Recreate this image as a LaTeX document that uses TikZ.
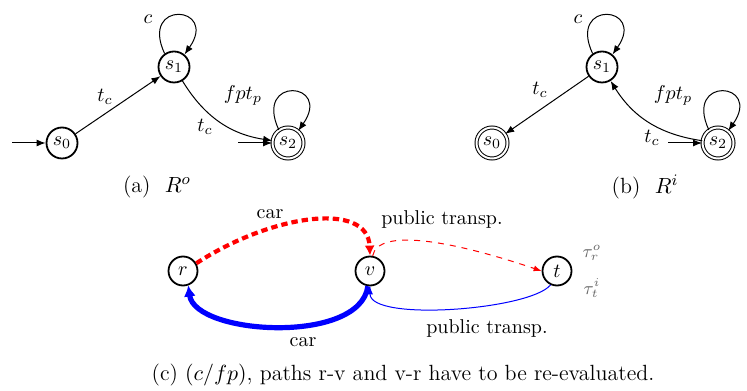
\documentclass[tikz,border=0pt]{standalone}
\usetikzlibrary{arrows.meta}
\begin{document}
\begin{tikzpicture}[x=0.5pt,y=0.5pt,
  statebox/.style={circle,draw,line width=0.9pt,minimum size=15.5pt,inner sep=0pt},
  accbox/.style={circle,draw,double,double distance=1pt,line width=0.5pt,minimum size=15.5pt,inner sep=0pt},
  edgeln/.style={-{Latex[length=4.5pt,width=3.5pt]},line width=0.5pt},
  lbl/.style={inner sep=1pt},
  capt/.style={inner sep=1pt,font=\fontsize{11}{13}\selectfont},
  tau/.style={text=black!60,font=\small,inner sep=0pt}]
\useasboundingbox (0,0) rectangle (747,390);
% (a)
\node[statebox] (a0) at (62,247) {$s_0$};
\node[statebox] (a1) at (174,323) {$s_1$};
\node[accbox] (a2) at (288,247) {$s_2$};
\coordinate (ai0) at (12,247);
\coordinate (ai2) at (238,247);
\draw[edgeln] (ai0) -- (a0);
\draw[edgeln] (ai2) -- (a2);
\draw[edgeln] (a0) -- (a1);
\draw[edgeln] (a1) to[bend right=25] (a2);
\draw[edgeln] (a1.125) .. controls +(115:60) and +(55:60) .. (a1.50);
\draw[edgeln] (a2.125) .. controls +(115:60) and +(55:60) .. (a2.50);
\node[lbl] (la1) at (148,371) {$c$};
\node[lbl] (la2) at (105,293) {$t_c$};
\node[lbl] (la3) at (205,263) {$t_c$};
\node[lbl] (la4) at (243,295) {$fpt_p$};
\node[capt] (capa) at (157,203) {(a)\ \ $R^o$};
% (b)
\node[accbox] (b0) at (492,247) {$s_0$};
\node[statebox] (b1) at (602,323) {$s_1$};
\node[accbox] (b2) at (718,247) {$s_2$};
\coordinate (bi2) at (668,247);
\draw[edgeln] (bi2) -- (b2);
\draw[edgeln] (b1) -- (b0);
\draw[edgeln] (b2) to[bend left=25] (b1);
\draw[edgeln] (b1.125) .. controls +(115:60) and +(55:60) .. (b1.50);
\draw[edgeln] (b2.125) .. controls +(115:60) and +(55:60) .. (b2.50);
\node[lbl] (lb1) at (578,371) {$c$};
\node[lbl] (lb2) at (540,300) {$t_c$};
\node[lbl] (lb3) at (673,295) {$fpt_p$};
\node[lbl] (lb4) at (652,252) {$t_c$};
\node[capt] (capb) at (645,203) {(b)\ \ $R^i$};
% (c)
\node[statebox,minimum size=14.5pt] (r) at (183,119) {$r$};
\node[statebox,minimum size=14.5pt] (v) at (370,119) {$v$};
\node[statebox,minimum size=14.5pt] (t) at (557,119) {$t$};
\draw[red,line width=2.1pt,dash pattern=on 3.2pt off 2pt,-{Latex[length=5pt,width=5pt]}]
  (r.30) .. controls (270,175) and (368,190) .. (v.north);
\draw[red,line width=0.5pt,dashed,-{Latex[length=4pt,width=3pt]}]
  (v.80) .. controls (378,162) and (450,150) .. (t.west);
\draw[blue,line width=0.5pt,-{Latex[length=4pt,width=3pt]}]
  (t.245) .. controls (530,80) and (370,68) .. (v.south);
\draw[blue,line width=2.6pt,-{Latex[length=5.5pt,width=6pt]}]
  (v.262) .. controls (360,45) and (195,55) .. (r.290);
\node[lbl] (lc1) at (270,176) {car};
\node[lbl] (lc2) at (442,170) {public transp.};
\node[lbl] (lc3) at (487,62) {public transp.};
\node[lbl] (lc4) at (303,48) {car};
\node[tau] (tro) at (592,137) {$\tau_r^o$};
\node[tau] (tti) at (592,102) {$\tau_t^i$};
\node[capt] (capc) at (403,15) {(c) $(c/fp)$, paths r-v and v-r have to be re-evaluated.};
\end{tikzpicture}
\end{document}
